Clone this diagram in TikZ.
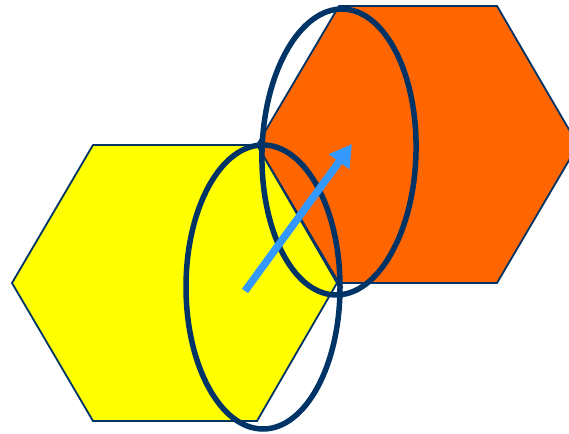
\documentclass[tikz,border=0pt]{standalone}
\usetikzlibrary{arrows.meta}
\definecolor{edgeblue}{HTML}{003366}
\definecolor{hexorange}{HTML}{FF6600}
\definecolor{hexyellow}{HTML}{FFFF00}
\definecolor{arrowblue}{HTML}{3399FF}
\tikzset{
  hexface/.style={draw=edgeblue, line width=1.8pt, line join=miter},
  ring/.style={draw=edgeblue, line width=5.5pt},
  vec/.style={draw=arrowblue, line width=7.5pt, -{Triangle[length=22pt,width=24pt]}}
}
\begin{document}
\begin{tikzpicture}[x=1pt,y=-1pt]
\useasboundingbox (0,0) rectangle (569,433);
\begin{scope}
\clip (0,0) rectangle (569,433);
% yellow hexagon
\fill[hexyellow] (12,283) -- (93,145) -- (257,145) -- (337,283) -- (257,421) -- (93,421) -- cycle;
\draw[hexface] (12,283) -- (93,145) -- (257,145) -- (337,283) -- (257,421) -- (93,421) -- cycle;
% orange hexagon
\fill[hexorange] (257,145) -- (339,6) -- (497,6) -- (578,145) -- (497,283) -- (339,283) -- cycle;
\draw[hexface] (257,145) -- (339,6) -- (497,6) -- (578,145) -- (497,283) -- (339,283) -- cycle;
% rings
\draw[ring] (263,287) ellipse [x radius=77, y radius=142];
\draw[ring, rotate around={-1.6:(339,152)}] (339,152) ellipse [x radius=77, y radius=143];
% arrow
\coordinate (tail) at (245,291);
\coordinate (tip) at (352,144);
\draw[vec] (tail) -- (tip);
\end{scope}
\end{tikzpicture}
\end{document}
